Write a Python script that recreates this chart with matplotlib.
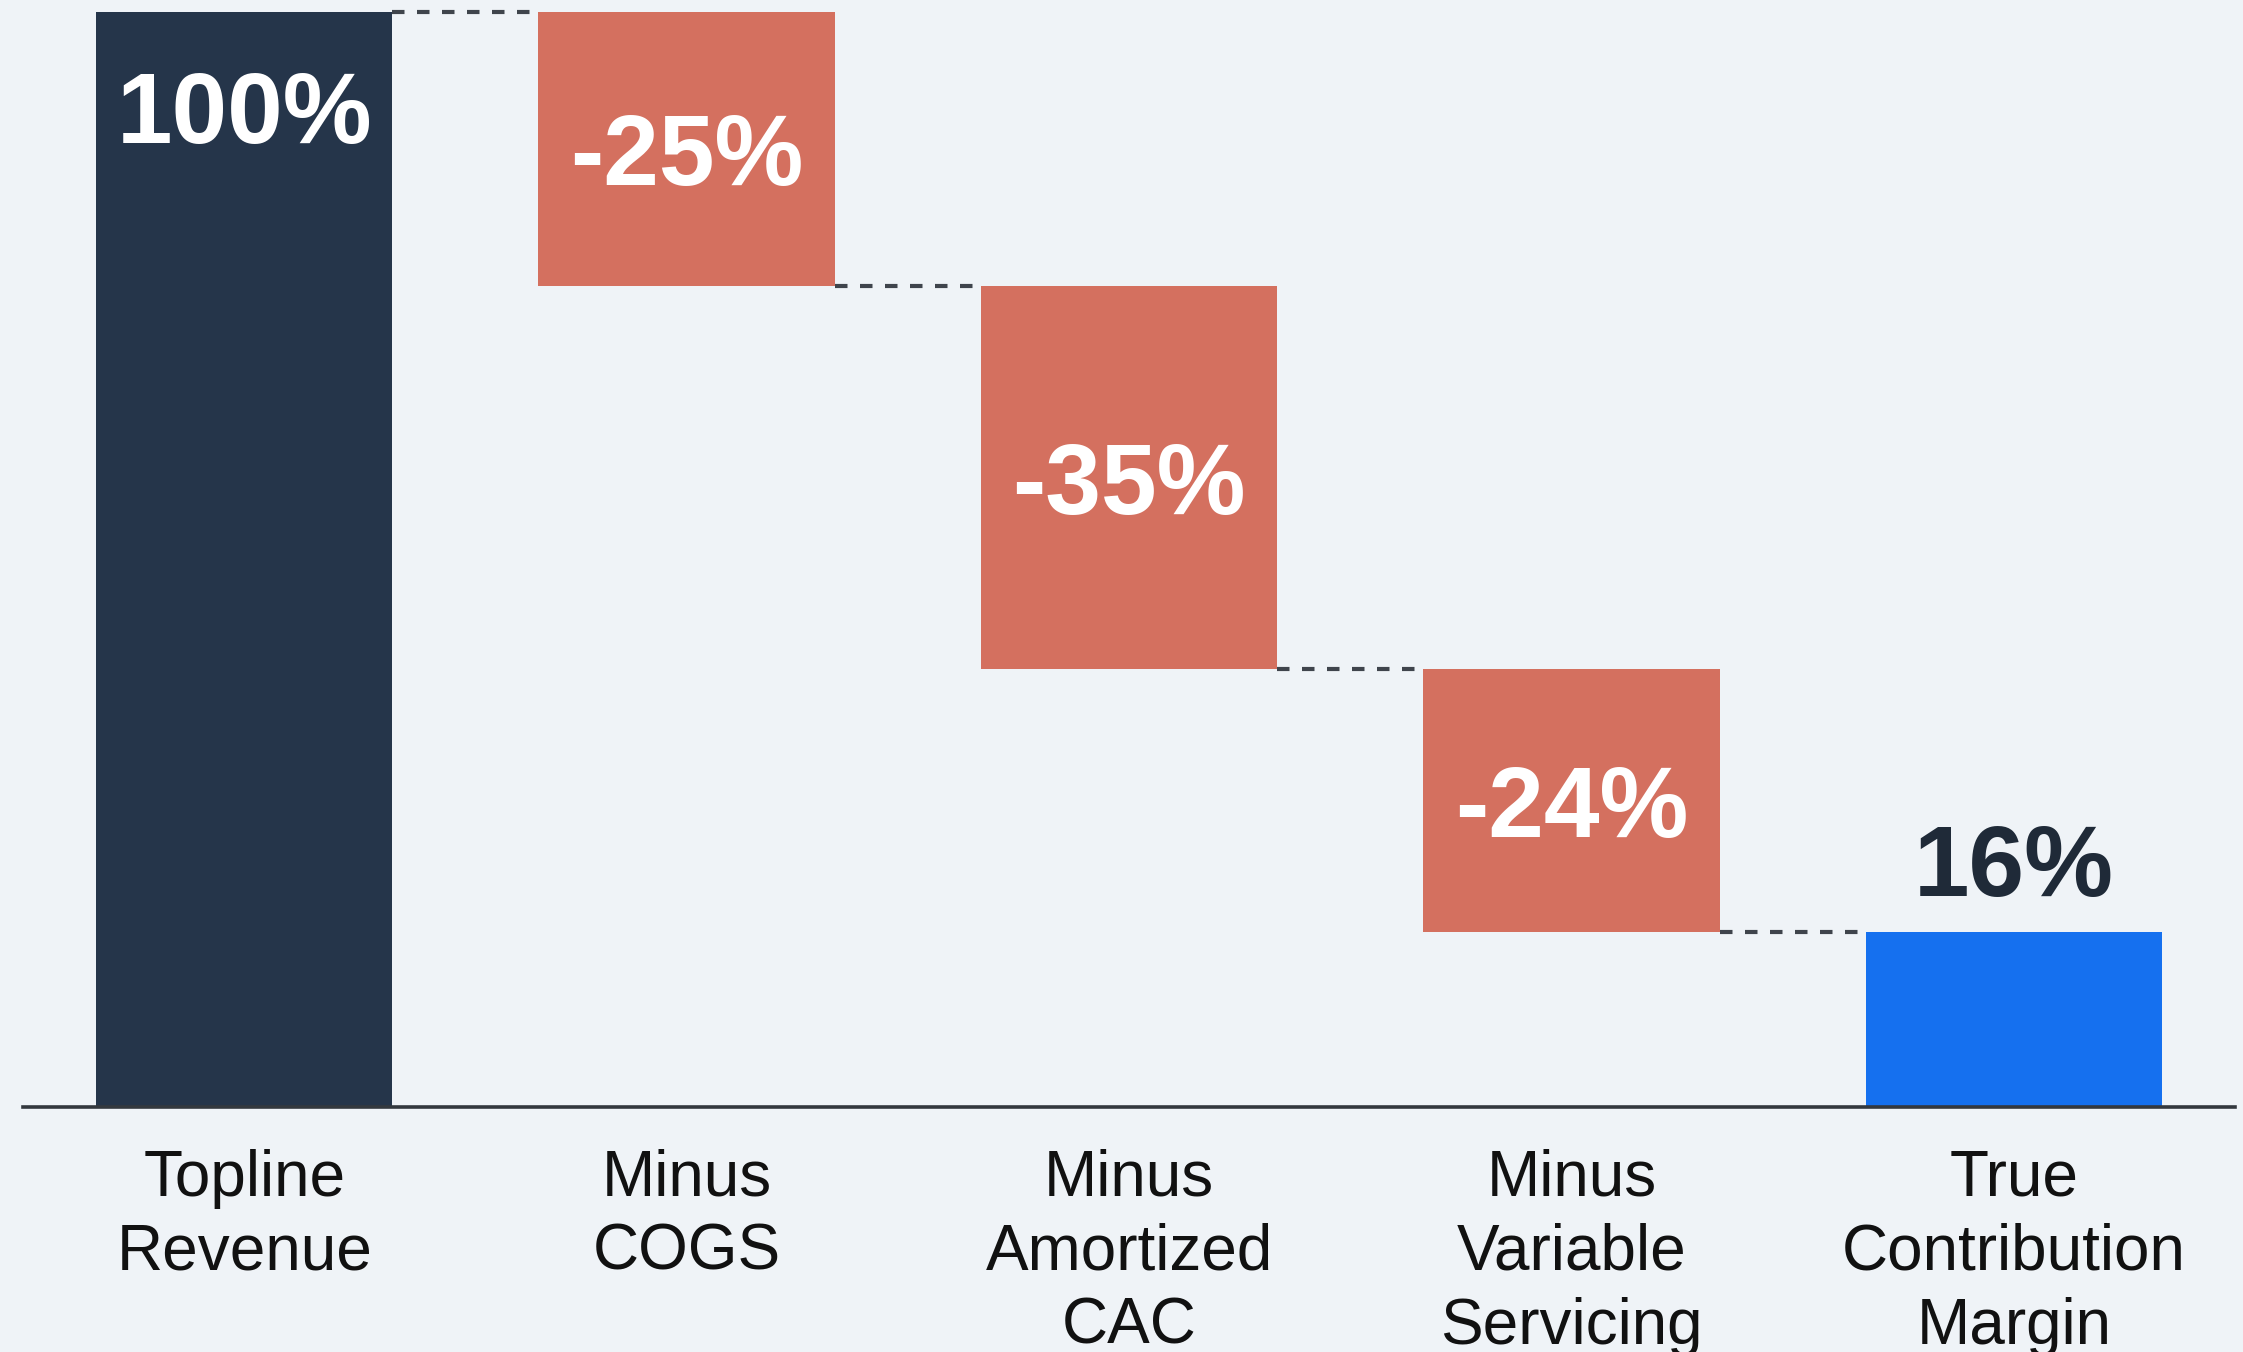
import matplotlib.pyplot as plt
import numpy as np

# waterfall data
categories = ['Topline\nRevenue', 'Minus\nCOGS', 'Minus\nAmortized\nCAC',
              'Minus\nVariable\nServicing', 'True\nContribution\nMargin']
changes = [100, -25, -35, -24, 16]
labels = ['100%', '-25%', '-35%', '-24%', '16%']

bg = '#eff3f7'
navy = '#25354a'
salmon = '#d4705f'
blue = '#1570ef'

plt.rcParams['font.family'] = ['Liberation Sans', 'DejaVu Sans']

fig = plt.figure(figsize=(22.43, 13.52), dpi=100, facecolor=bg)
ax = fig.add_axes([0.01025, 0.1812, 0.9862, 0.8188])
ax.set_facecolor(bg)

x = np.arange(len(categories))
width = 0.67

# running totals -> bottoms and heights
bottoms = []
heights = []
level = 0
for i, c in enumerate(changes):
    if i == 0:
        bottoms.append(0)
        heights.append(c)
        level = c
    elif i == len(changes) - 1:
        bottoms.append(0)
        heights.append(level)
    else:
        bottoms.append(level + c)
        heights.append(-c)
        level = level + c

colors = [navy] + [salmon] * (len(changes) - 2) + [blue]
ax.bar(x, heights, bottom=bottoms, width=width, color=colors, linewidth=0, zorder=2)

# dashed connectors between bars
tops = [b + h for b, h in zip(bottoms, heights)]
for i in range(len(changes) - 1):
    y = bottoms[i] if 0 < i < len(changes) - 1 else tops[i]
    ax.plot([x[i] + width / 2, x[i + 1] - width / 2], [y, y], color='#3f444c',
            lw=3, dashes=(3, 3), zorder=1)

# value labels
for i, lab in enumerate(labels):
    if i == 0:
        ax.annotate(lab, (x[i], tops[i]), xytext=(0, -94), textcoords='offset points',
                    ha='center', va='baseline', color='white', fontsize=72, fontweight='bold')
    elif i == len(labels) - 1:
        ax.annotate(lab, (x[i], tops[i]), xytext=(0, 26), textcoords='offset points',
                    ha='center', va='baseline', color='#1f2a38', fontsize=72, fontweight='bold')
    else:
        mid = bottoms[i] + heights[i] / 2
        ax.annotate(lab, (x[i], mid), xytext=(0, -26), textcoords='offset points',
                    ha='center', va='baseline', color='white', fontsize=72, fontweight='bold')

ax.set_xlim(-0.5, len(categories) - 0.5)
ax.set_ylim(0, 101.1)
ax.set_xticks(x)
ax.set_xticklabels(categories, fontsize=46, color='#111111', linespacing=1.3)
ax.tick_params(axis='x', length=0, pad=30)
ax.set_yticks([])
for s in ['top', 'right', 'left']:
    ax.spines[s].set_visible(False)
ax.spines['bottom'].set_color('#33383e')
ax.spines['bottom'].set_linewidth(2.6)
ax.spines['bottom'].set_zorder(3)

fig.savefig('out.png', dpi=100, facecolor=bg)
